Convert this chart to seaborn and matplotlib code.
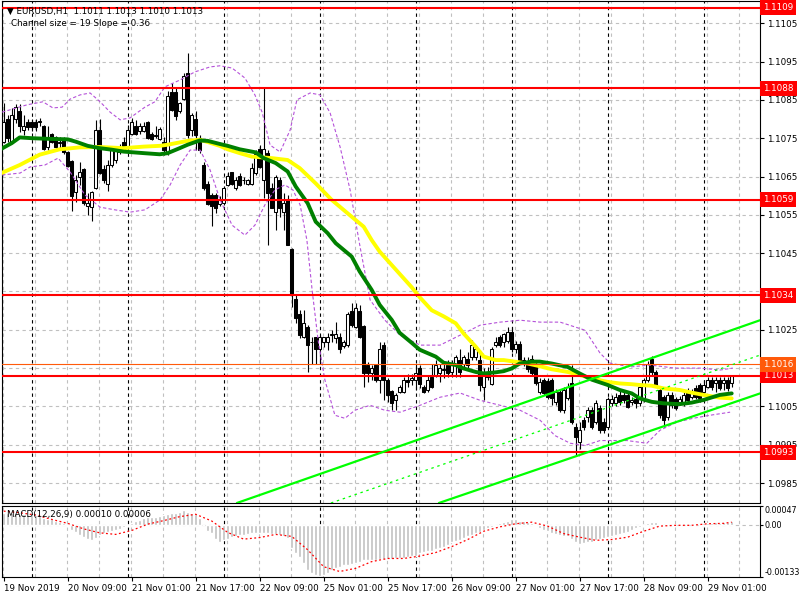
import matplotlib
matplotlib.use("Agg")
import matplotlib.pyplot as plt
import matplotlib.transforms as mtransforms
import numpy as np
import seaborn as sns

# EURUSD H1 candles, bar 0 = 19 Nov 2019 17:00, last bar = 29 Nov 07:00
opens = [
    1.10741, 1.10800, 1.10741, 1.10800, 1.10821, 1.10772, 1.10792, 1.10792, 1.10792, 1.10792,
    1.10782, 1.10728, 1.10760, 1.10752, 1.10737, 1.10750, 1.10713, 1.10691, 1.10609, 1.10650,
    1.10669, 1.10572, 1.10570, 1.10620, 1.10772, 1.10670, 1.10630, 1.10680, 1.10692, 1.10728,
    1.10739, 1.10728, 1.10760, 1.10782, 1.10770, 1.10770, 1.10793, 1.10760, 1.10759, 1.10747,
    1.10739, 1.10711, 1.10871, 1.10871, 1.10820, 1.10852, 1.10921, 1.10772, 1.10800, 1.10750,
    1.10680, 1.10631, 1.10602, 1.10602, 1.10579, 1.10580, 1.10628, 1.10661, 1.10619, 1.10652,
    1.10641, 1.10631, 1.10631, 1.10660, 1.10721, 1.10641, 1.10712, 1.10619, 1.10558, 1.10641,
    1.10558, 1.10591, 1.10460, 1.10330, 1.10291, 1.10232, 1.10258, 1.10219, 1.10230, 1.10199,
    1.10219, 1.10219, 1.10237, 1.10228, 1.10230, 1.10208, 1.10210, 1.10300, 1.10258, 1.10300,
    1.10260, 1.10158, 1.10138, 1.10158, 1.10119, 1.10210, 1.10119, 1.10090, 1.10067, 1.10088,
    1.10088, 1.10119, 1.10119, 1.10119, 1.10150, 1.10101, 1.10094, 1.10127, 1.10132, 1.10136,
    1.10146, 1.10158, 1.10140, 1.10158, 1.10171, 1.10162, 1.10175, 1.10178, 1.10180, 1.10171,
    1.10100, 1.10140, 1.10108, 1.10210, 1.10232, 1.10219, 1.10222, 1.10243, 1.10200, 1.10214,
    1.10162, 1.10169, 1.10173, 1.10162, 1.10088, 1.10119, 1.10117, 1.10119, 1.10062, 1.10088,
    1.10040, 1.10071, 1.10110, 1.09997, 1.09958, 1.10014, 1.10023, 1.10040, 1.10010, 1.10045,
    1.10010, 1.09997, 1.10058, 1.10058, 1.10080, 1.10080, 1.10080, 1.10062, 1.10070, 1.10058,
    1.10068, 1.10119, 1.10173, 1.10140, 1.10093, 1.10075, 1.10023, 1.10080, 1.10070, 1.10062,
    1.10058, 1.10088, 1.10075, 1.10097, 1.10106, 1.10088, 1.10101, 1.10119, 1.10110, 1.10120,
    1.10110, 1.10120, 1.10110]
highs = [
    1.10841, 1.10810, 1.10830, 1.10840, 1.10840, 1.10811, 1.10800, 1.10800, 1.10800, 1.10802,
    1.10785, 1.10782, 1.10763, 1.10755, 1.10754, 1.10752, 1.10716, 1.10693, 1.10654, 1.10689,
    1.10672, 1.10607, 1.10611, 1.10798, 1.10800, 1.10680, 1.10693, 1.10728, 1.10730, 1.10735,
    1.10754, 1.10785, 1.10802, 1.10798, 1.10790, 1.10793, 1.10795, 1.10765, 1.10782, 1.10779,
    1.10754, 1.10872, 1.10893, 1.10880, 1.10845, 1.10920, 1.10972, 1.10815, 1.10820, 1.10759,
    1.10689, 1.10637, 1.10607, 1.10607, 1.10598, 1.10624, 1.10663, 1.10663, 1.10650, 1.10660,
    1.10650, 1.10643, 1.10685, 1.10719, 1.10733, 1.10880, 1.10719, 1.10632, 1.10654, 1.10650,
    1.10606, 1.10602, 1.10463, 1.10341, 1.10302, 1.10302, 1.10263, 1.10232, 1.10232, 1.10237,
    1.10232, 1.10241, 1.10250, 1.10271, 1.10241, 1.10224, 1.10297, 1.10319, 1.10319, 1.10315,
    1.10263, 1.10167, 1.10158, 1.10162, 1.10219, 1.10219, 1.10123, 1.10094, 1.10084, 1.10106,
    1.10127, 1.10135, 1.10135, 1.10162, 1.10158, 1.10106, 1.10132, 1.10162, 1.10171, 1.10162,
    1.10162, 1.10172, 1.10171, 1.10184, 1.10199, 1.10184, 1.10193, 1.10223, 1.10206, 1.10197,
    1.10149, 1.10153, 1.10206, 1.10232, 1.10236, 1.10241, 1.10256, 1.10258, 1.10220, 1.10220,
    1.10180, 1.10178, 1.10183, 1.10167, 1.10125, 1.10125, 1.10125, 1.10125, 1.10095, 1.10095,
    1.10101, 1.10110, 1.10158, 1.10006, 1.10010, 1.10023, 1.10049, 1.10049, 1.10067, 1.10055,
    1.10020, 1.10075, 1.10080, 1.10085, 1.10090, 1.10090, 1.10085, 1.10075, 1.10080, 1.10106,
    1.10125, 1.10168, 1.10182, 1.10145, 1.10101, 1.10080, 1.10088, 1.10088, 1.10075, 1.10078,
    1.10088, 1.10097, 1.10095, 1.10106, 1.10110, 1.10119, 1.10127, 1.10127, 1.10127, 1.10127,
    1.10127, 1.10127, 1.10130]
lows = [
    1.10737, 1.10740, 1.10737, 1.10790, 1.10767, 1.10759, 1.10772, 1.10770, 1.10770, 1.10782,
    1.10720, 1.10720, 1.10737, 1.10725, 1.10724, 1.10710, 1.10676, 1.10559, 1.10583, 1.10628,
    1.10576, 1.10550, 1.10533, 1.10617, 1.10657, 1.10633, 1.10611, 1.10676, 1.10686, 1.10710,
    1.10715, 1.10724, 1.10758, 1.10758, 1.10760, 1.10767, 1.10748, 1.10745, 1.10750, 1.10745,
    1.10707, 1.10707, 1.10820, 1.10798, 1.10815, 1.10850, 1.10750, 1.10755, 1.10720, 1.10711,
    1.10615, 1.10576, 1.10520, 1.10554, 1.10572, 1.10576, 1.10624, 1.10628, 1.10616, 1.10624,
    1.10631, 1.10628, 1.10628, 1.10655, 1.10672, 1.10593, 1.10471, 1.10569, 1.10511, 1.10545,
    1.10511, 1.10471, 1.10310, 1.10268, 1.10228, 1.10228, 1.10141, 1.10162, 1.10162, 1.10162,
    1.10206, 1.10197, 1.10219, 1.10215, 1.10189, 1.10202, 1.10206, 1.10257, 1.10254, 1.10228,
    1.10102, 1.10115, 1.10119, 1.10115, 1.10084, 1.10067, 1.10062, 1.10040, 1.10040, 1.10084,
    1.10084, 1.10100, 1.10105, 1.10093, 1.10097, 1.10084, 1.10088, 1.10097, 1.10127, 1.10115,
    1.10123, 1.10128, 1.10127, 1.10127, 1.10127, 1.10154, 1.10145, 1.10171, 1.10171, 1.10090,
    1.10067, 1.10119, 1.10105, 1.10206, 1.10206, 1.10206, 1.10215, 1.10192, 1.10190, 1.10162,
    1.10155, 1.10140, 1.10132, 1.10105, 1.10082, 1.10080, 1.10070, 1.10053, 1.10055, 1.10035,
    1.10032, 1.10066, 1.10005, 1.09920, 1.09940, 1.09988, 1.10010, 1.09990, 1.10004, 1.09980,
    1.09980, 1.09990, 1.10050, 1.10050, 1.10055, 1.10060, 1.10045, 1.10055, 1.10045, 1.10050,
    1.10062, 1.10115, 1.10132, 1.10100, 1.10019, 1.09997, 1.10014, 1.10045, 1.10040, 1.10055,
    1.10050, 1.10062, 1.10070, 1.10070, 1.10062, 1.10084, 1.10097, 1.10093, 1.10088, 1.10093,
    1.10093, 1.10090, 1.10100]
closes = [
    1.10793, 1.10750, 1.10811, 1.10831, 1.10782, 1.10782, 1.10779, 1.10780, 1.10780, 1.10794,
    1.10721, 1.10750, 1.10741, 1.10728, 1.10739, 1.10713, 1.10678, 1.10600, 1.10641, 1.10661,
    1.10580, 1.10580, 1.10609, 1.10772, 1.10659, 1.10640, 1.10680, 1.10721, 1.10724, 1.10715,
    1.10720, 1.10772, 1.10793, 1.10760, 1.10782, 1.10782, 1.10750, 1.10747, 1.10757, 1.10773,
    1.10720, 1.10860, 1.10824, 1.10808, 1.10841, 1.10913, 1.10759, 1.10811, 1.10759, 1.10720,
    1.10619, 1.10579, 1.10572, 1.10569, 1.10590, 1.10619, 1.10652, 1.10631, 1.10641, 1.10628,
    1.10640, 1.10641, 1.10672, 1.10709, 1.10674, 1.10721, 1.10608, 1.10569, 1.10650, 1.10569,
    1.10580, 1.10471, 1.10341, 1.10280, 1.10236, 1.10269, 1.10210, 1.10217, 1.10199, 1.10230,
    1.10230, 1.10232, 1.10239, 1.10239, 1.10199, 1.10219, 1.10291, 1.10263, 1.10306, 1.10232,
    1.10138, 1.10138, 1.10149, 1.10119, 1.10199, 1.10119, 1.10080, 1.10058, 1.10080, 1.10100,
    1.10119, 1.10113, 1.10125, 1.10138, 1.10108, 1.10088, 1.10119, 1.10101, 1.10158, 1.10149,
    1.10148, 1.10138, 1.10158, 1.10178, 1.10140, 1.10180, 1.10158, 1.10210, 1.10199, 1.10106,
    1.10140, 1.10127, 1.10199, 1.10219, 1.10210, 1.10239, 1.10245, 1.10200, 1.10214, 1.10169,
    1.10171, 1.10147, 1.10138, 1.10110, 1.10114, 1.10084, 1.10075, 1.10071, 1.10088, 1.10040,
    1.10093, 1.10101, 1.10010, 1.09971, 1.09988, 1.09997, 1.10040, 1.09997, 1.10058, 1.09988,
    1.09988, 1.10069, 1.10069, 1.10075, 1.10062, 1.10067, 1.10049, 1.10068, 1.10058, 1.10101,
    1.10119, 1.10162, 1.10140, 1.10106, 1.10027, 1.10014, 1.10080, 1.10053, 1.10047, 1.10070,
    1.10080, 1.10067, 1.10088, 1.10075, 1.10071, 1.10106, 1.10119, 1.10101, 1.10120, 1.10097,
    1.10120, 1.10097, 1.10130]

# moving averages (bar index, price)
green_bars = [-1, 2, 4, 7, 12, 16, 18, 21, 24, 27, 30, 35, 39, 41, 44, 46, 49, 51, 54, 56,
              59, 63, 65, 68, 71, 73, 76, 78, 81, 83, 87, 89, 92, 94, 97, 99, 102, 104, 108,
              110, 113, 115, 118, 120, 123, 125, 127, 129, 132, 134, 137, 141, 144, 147, 151,
              154, 157, 159, 162, 165, 169, 172, 175, 179, 182]
green_ma = [1.10720, 1.10737, 1.10752, 1.10750, 1.10748, 1.10747, 1.10741, 1.10730, 1.10724,
            1.10720, 1.10715, 1.10711, 1.10708, 1.10711, 1.10724, 1.10733, 1.10744, 1.10743,
            1.10735, 1.10730, 1.10721, 1.10713, 1.10698, 1.10685, 1.10663, 1.10624, 1.10580,
            1.10532, 1.10502, 1.10476, 1.10441, 1.10402, 1.10354, 1.10315, 1.10276, 1.10242,
            1.10216, 1.10198, 1.10180, 1.10164, 1.10158, 1.10149, 1.10140, 1.10136, 1.10139,
            1.10142, 1.10149, 1.10162, 1.10167, 1.10167, 1.10162, 1.10153, 1.10136, 1.10120,
            1.10106, 1.10093, 1.10084, 1.10071, 1.10062, 1.10058, 1.10056, 1.10060, 1.10067,
            1.10080, 1.10084]
yellow_bars = [-1, 4, 9, 14, 19, 24, 30, 35, 39, 41, 44, 46, 49, 51, 54, 56, 59, 62, 67, 71,
               74, 78, 82, 87, 90, 92, 94, 97, 102, 104, 107, 110, 113, 115, 118, 120, 123,
               125, 127, 131, 134, 137, 141, 144, 147, 151, 154, 157, 159, 162, 165, 169,
               172, 175, 179, 182]
yellow_ma = [1.10657, 1.10680, 1.10707, 1.10721, 1.10726, 1.10727, 1.10724, 1.10728, 1.10730,
             1.10733, 1.10739, 1.10743, 1.10746, 1.10740, 1.10730, 1.10721, 1.10711, 1.10702,
             1.10698, 1.10693, 1.10672, 1.10632, 1.10589, 1.10545, 1.10519, 1.10484, 1.10454,
             1.10419, 1.10361, 1.10335, 1.10301, 1.10285, 1.10267, 1.10240, 1.10206, 1.10180,
             1.10171, 1.10171, 1.10168, 1.10162, 1.10155, 1.10147, 1.10140, 1.10132, 1.10123,
             1.10114, 1.10110, 1.10108, 1.10106, 1.10104, 1.10097, 1.10093, 1.10086, 1.10080,
             1.10073, 1.10071]

# bollinger envelope
upper_bars = [-0.4, 5.8, 9.8, 12.3, 14.6, 16.6, 19.1, 21.6, 24.1, 26.6, 29.1, 31.6, 35.3,
              37.8, 40.3, 44.1, 47.8, 51.6, 54.1, 57.1, 60.3, 62.8, 64.6, 66.6, 69.1, 71.6,
              73.3, 76.6, 79.1, 81.6, 84.1, 86.6, 89.1, 91.6, 95.3, 99.1, 104.1, 109.1, 114.1,
              119.1, 124.1, 129.1, 134.1, 139.1, 145.3, 149.1, 151.6, 156.6, 161.6, 167.8,
              174.1, 179.1, 182.3]
upper_band = [1.10818, 1.10837, 1.10845, 1.10829, 1.10831, 1.10852, 1.10863, 1.10868, 1.10845,
              1.10818, 1.10798, 1.10803, 1.10831, 1.10845, 1.10884, 1.10902, 1.10923, 1.10936,
              1.10939, 1.10933, 1.10907, 1.10863, 1.10818, 1.10732, 1.10714, 1.10771, 1.10850,
              1.10868, 1.10863, 1.10816, 1.10727, 1.10615, 1.10466, 1.10328, 1.10275, 1.10236,
              1.10210, 1.10210, 1.10236, 1.10262, 1.10270, 1.10275, 1.10270, 1.10270, 1.10249,
              1.10189, 1.10163, 1.10153, 1.10158, 1.10150, 1.10150, 1.10145, 1.10150]
lower_bars = [-0.4, 4.1, 6.6, 10.3, 13.6, 16.6, 20.3, 24.1, 27.8, 31.6, 35.3, 39.1, 41.6,
              44.1, 46.6, 49.1, 51.6, 54.1, 57.1, 60.3, 62.8, 65.3, 67.8, 70.3, 72.3, 74.1,
              75.8, 77.1, 78.6, 80.3, 82.8, 85.3, 87.8, 91.6, 95.3, 99.1, 104.1, 109.1, 114.1,
              119.1, 124.1, 129.1, 134.1, 137.8, 141.6, 145.3, 149.1, 155.8, 160.8, 164.1,
              168.3, 172.3, 176.6, 181.6]
lower_band = [1.10654, 1.10659, 1.10675, 1.10680, 1.10698, 1.10662, 1.10602, 1.10570, 1.10563,
              1.10557, 1.10563, 1.10589, 1.10628, 1.10680, 1.10719, 1.10719, 1.10667, 1.10589,
              1.10523, 1.10497, 1.10523, 1.10576, 1.10615, 1.10628, 1.10615, 1.10576, 1.10484,
              1.10354, 1.10223, 1.10119, 1.10027, 1.10019, 1.10040, 1.10053, 1.10040, 1.10035,
              1.10053, 1.10074, 1.10085, 1.10066, 1.10053, 1.10040, 1.10014, 1.09974, 1.09954,
              1.09948, 1.09961, 1.09961, 1.09954, 1.09988, 1.10009, 1.10019, 1.10027, 1.10035]

# regression channel (start bar, end bar) and prices
chan_upper_bars = [58.3, 189.1]
chan_upper = [1.09798, 1.10275]
chan_mid_bars = [81.8, 189.1]
chan_mid = [1.09798, 1.10184]
chan_lower_bars = [108.8, 189.1]
chan_lower = [1.09798, 1.10084]

levels = [1.1109, 1.1088, 1.1059, 1.1034, 1.1013, 1.0993]
orange_level = 1.1016
price_ticks = [1.0985, 1.0995, 1.1005, 1.1015, 1.1025, 1.1035, 1.1045, 1.1055,
               1.1065, 1.1075, 1.1085, 1.1095, 1.1105]
hidden_ticks = [1.1015, 1.1035]   # covered by the level boxes

# MACD main (x1e-5) for every bar, signal sampled
macd_hist = [
    30, 30, 30, 28, 26, 26, 24, 23, 23, 21,
    17, 15, 13, 9, 6, 3, -4, -15, -20, -26,
    -32, -37, -38, -34, -26, -21, -19, -17, -15, -11,
    -6, -3, 4, 8, 11, 16, 19, 20, 20, 21,
    23, 26, 28, 30, 33, 37, 33, 30, 26, 17,
    0, -17, -21, -37, -43, -40, -37, -32, -30, -27,
    -26, -24, -22, -21, -21, -21, -22, -23, -25, -27,
    -30, -34, -60, -73, -83, -98, -115, -124, -129, -131,
    -129, -122, -115, -110, -107, -103, -102, -100, -98, -95,
    -91, -90, -90, -89, -88, -88, -88, -87, -86, -86,
    -86, -83, -81, -80, -73, -70, -68, -66, -62, -60,
    -56, -51, -45, -42, -38, -35, -30, -26, -21, -20,
    -15, -10, -6, -3, 3, 7, 9, 15, 15, 9,
    8, 6, 3, -4, -9, -13, -17, -21, -23, -26,
    -28, -30, -37, -43, -49, -47, -45, -44, -40, -37,
    -34, -32, -28, -26, -23, -21, -18, -15, -9, -6,
    -3, 4, 7, 6, 1, -1, -2, -1, -1, 0,
    -1, -1, 0, -1, 0, 3, 4, 4, 6, 5,
    7, 7, 10]
signal_bars = [0, 4, 8, 12, 16, 20, 24, 28, 32, 36, 40, 44, 48, 52, 56, 60, 64, 68, 72, 76,
               80, 84, 88, 92, 96, 100, 104, 108, 112, 116, 120, 124, 128, 132, 136, 140,
               144, 148, 152, 156, 160, 164, 168, 172, 176, 180, 182]
signal_vals = [34, 30, 24, 13, 3, -11, -21, -25, -15, 1, 10, 20, 26, 9, -20, -37, -33, -25,
               -30, -64, -107, -119, -111, -94, -86, -86, -80, -71, -56, -38, -17, -6, 2, 6,
               -4, -23, -32, -40, -38, -32, -17, -4, -2, -2, 2, 3, 6]

date_bars = [0, 16, 32, 48, 64, 80, 96, 112, 128, 144, 160, 176]
date_labels = ["19 Nov 2019", "20 Nov 09:00", "21 Nov 01:00", "21 Nov 17:00",
               "22 Nov 09:00", "25 Nov 01:00", "25 Nov 17:00", "26 Nov 09:00",
               "27 Nov 01:00", "27 Nov 17:00", "28 Nov 09:00", "29 Nov 01:00"]
day_starts = [7, 31, 55, 79, 103, 127, 151, 175]

sns.set_theme(style="white")
plt.rcParams['font.family'] = ['DejaVu Sans']
plt.rcParams['font.size'] = 6

fig = plt.figure(figsize=(8, 6), dpi=100)
ax = fig.add_axes([2 / 800, 97 / 600, 758 / 800, 502 / 600])
ax2 = fig.add_axes([2 / 800, 23 / 600, 758 / 800, 71 / 600])

bars = np.arange(len(closes))
xlim = (-0.425, -0.425 + 758 / 4)
grid_x = np.arange(0, 190, 8) - 0.25
gray = '#C0C0C0'

for a in (ax, ax2):
    a.set_facecolor('white')
    for g in grid_x:
        a.axvline(g, color=gray, lw=0.8, ls=(0, (3, 3)), zorder=0)
    for d in day_starts:
        a.axvline(d, color='black', lw=0.8, ls=(0, (3, 3)), zorder=1)
    for s in a.spines.values():
        s.set_color('black')
        s.set_linewidth(0.8)
    a.set_xlim(*xlim)

# price panel
for t in price_ticks:
    ax.axhline(t, color=gray, lw=0.8, ls=(0, (3, 3)), zorder=0)

o, h, l, c = map(np.array, (opens, highs, lows, closes))
ax.vlines(bars, l, h, color='black', lw=0.8, zorder=3)
body = np.maximum(np.abs(c - o), 0.000012)
ax.bar(bars, body, bottom=np.minimum(o, c), width=0.72,
       color=np.where(c >= o, 'white', 'black'), edgecolor='black', linewidth=0.75, zorder=4)

band_col = '#B552D9'
sns.lineplot(x=upper_bars, y=upper_band, ax=ax, color=band_col, lw=0.8,
             linestyle=(0, (3, 2)), zorder=5, legend=False)
sns.lineplot(x=lower_bars, y=lower_band, ax=ax, color=band_col, lw=0.8,
             linestyle=(0, (3, 2)), zorder=5, legend=False)
sns.lineplot(x=yellow_bars, y=yellow_ma, ax=ax, color='#FFFF00', lw=2.8, zorder=6, legend=False)
sns.lineplot(x=green_bars, y=green_ma, ax=ax, color='#008000', lw=2.8, zorder=6.5, legend=False)

for lvl in levels:
    ax.axhline(lvl, color='red', lw=1.5, zorder=7)
ax.axhline(orange_level, color='#FF5A0A', lw=0.8, zorder=7)

lime = '#00FF00'
sns.lineplot(x=chan_upper_bars, y=chan_upper, ax=ax, color=lime, lw=1.6, zorder=8, legend=False)
sns.lineplot(x=chan_lower_bars, y=chan_lower, ax=ax, color=lime, lw=1.6, zorder=8, legend=False)
sns.lineplot(x=chan_mid_bars, y=chan_mid, ax=ax, color=lime, lw=0.9,
             linestyle=(0, (2, 3)), zorder=8, legend=False)

ax.set_ylim(1.09798, 1.11108)
ax.yaxis.tick_right()
ax.set_yticks(price_ticks)
ax.set_yticklabels(["" if t in hidden_ticks else f"{t:.4f}" for t in price_ticks])
ax.tick_params(axis='y', length=3, width=0.8, pad=2, labelsize=6.3, colors='black', right=True)
ax.set_xticks([])
ax.set_xlabel('')
ax.set_ylabel('')

trans = mtransforms.blended_transform_factory(ax.transAxes, ax.transData)
for lvl in levels:
    ax.text(1.004, lvl, f"{lvl:.4f}", transform=trans, color='white', fontsize=6.3,
            va='center', ha='left', clip_on=False, zorder=20,
            bbox=dict(boxstyle='square,pad=0.35', fc='red', ec='none'))
ax.text(1.004, orange_level, f"{orange_level:.4f}", transform=trans, color='white',
        fontsize=6.3, va='center', ha='left', clip_on=False, zorder=20,
        bbox=dict(boxstyle='square,pad=0.35', fc='#FF5A0A', ec='none'))

fig.text(7 / 800, 1 - 11 / 600, "\u25bc EURUSD,H1  1.1011 1.1013 1.1010 1.1013",
         fontsize=6.3, va='center', ha='left', color='black')
fig.text(11 / 800, 1 - 24 / 600, "Channel size = 19 Slope = 0.36",
         fontsize=6.3, va='center', ha='left', color='black')

# MACD panel
hist = np.array(macd_hist) * 1e-5
ax2.axhline(0, color=gray, lw=0.8, ls=(0, (3, 3)), zorder=0)
ax2.bar(bars, hist, width=0.75, color=gray, zorder=2)
sns.lineplot(x=signal_bars, y=np.array(signal_vals) * 1e-5, ax=ax2, color='red', lw=0.9,
             linestyle=(0, (1.5, 2)), zorder=3, legend=False)
ax2.set_ylim(-0.00133, 0.00047)
ax2.yaxis.tick_right()
ax2.set_yticks([0.00047, 0.0, -0.00133])
ax2.set_yticklabels(["0.00047", "0.00", "-0.00133"])
ylabs = ax2.get_yticklabels()
ylabs[0].set_va('top')
ylabs[2].set_va('bottom')
ax2.tick_params(axis='y', length=2, width=0.8, pad=1, labelsize=5.8, colors='black', right=True)
ax2.set_xticks(date_bars)
ax2.set_xticklabels(date_labels, ha='left')
ax2.tick_params(axis='x', length=3, width=0.8, pad=2, labelsize=6.3, colors='black', bottom=True)
ax2.set_xlabel('')
ax2.set_ylabel('')
ax2.text(5 / 758, 0.88, "MACD(12,26,9) 0.00010 0.00006", transform=ax2.transAxes,
         fontsize=6.3, va='center', ha='left', color='black', zorder=10)

fig.savefig("out.png", dpi=100)
